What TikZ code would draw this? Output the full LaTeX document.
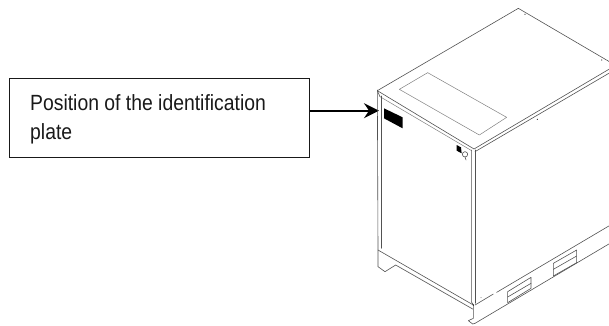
\documentclass[tikz,border=0pt]{standalone}
\usepackage{fontspec}
\setmainfont[FakeStretch=0.88]{Liberation Sans}
\usetikzlibrary{arrows.meta}
\tikzset{
  ln/.style={draw=black!68,line width=0.6pt,line join=round,line cap=round},
  lt/.style={draw=black!50,line width=0.5pt,line join=round,line cap=round},
  lbl/.style={draw=black!90,line width=1pt,minimum width=300pt,minimum height=79.5pt,inner sep=0pt,anchor=north west},
  arr/.style={draw=black,line width=1.7pt,-{Stealth[length=15pt,width=15pt,inset=5pt]}}
}
\begin{document}
\begin{tikzpicture}[x=1pt,y=-1pt]
\useasboundingbox (0,0) rectangle (609,325);
\clip (0,0) rectangle (609,325);
\node[lbl] (box) at (9,77.5) {};
\node[anchor=base west,inner sep=0pt,font=\fontsize{22}{29}\selectfont,text=black!90] (t1) at (30,110.8) {Position of the identification};
\node[anchor=base west,inner sep=0pt,font=\fontsize{22}{29}\selectfont,text=black!90] (t2) at (30,139.8) {plate};
\coordinate (tip) at (379,110.7);
\draw[arr] (box.east |- tip) -- (tip);
% upper part, in the 3x zoom coordinates
\begin{scope}[shift={(360pt,0pt)},x=0.33333pt,y=-0.33333pt]
  \draw[ln] (52,272) -- (475,25) -- (760,192);
  \draw[ln] (52,272) -- (342,447) -- (760,200);
  \draw[lt] (60,290) -- (335,452);
  \draw[ln] (52,272) -- (60,290);
  \draw[ln] (345,455) -- (760,212);
  \draw[lt] (118,268) -- (203,218) -- (440,352) -- (358,405) -- cycle;
  \fill[black] (72,325) -- (128,352) -- (128,385) -- (72,355) -- cycle;
  \fill[black] (290,435) -- (303,442) -- (305,460) -- (290,452) -- cycle;
  \draw[ln] (315,463) circle (8);
  \draw[ln] (315,470) -- (318,480);
  \fill[black!80] (495,43) circle (1.8) (725,180) circle (1.8) (532,358) circle (1.8);
\end{scope}
% lower part
\begin{scope}[shift={(360pt,-170pt)},x=0.33333pt,y=-0.33333pt]
  \draw[ln] (52,-240) -- (54,240) -- (54,290) -- (75,305) -- (107,285);
  \draw[ln] (63,-222) -- (63,235);
  \draw[ln] (54,240) -- (340,405);
  \draw[ln] (107,285) -- (338,417);
  \draw[ln] (334,-60) -- (334,395) -- (340,405);
  \draw[ln] (346,-60) -- (346,400);
  \draw[ln] (340,405) -- (340,445) -- (325,452) -- (338,462) -- (345,460) -- (760,214);
  \draw[ln] (345,405) -- (400,372);
  \draw[ln] (410,367) -- (760,160);
  \draw[ln] (443,365) -- (513,322) -- (513,355) -- (443,398) -- cycle;
  \draw[ln] (443,381) -- (513,340);
  \draw[ln] (580,280) -- (650,240) -- (650,278) -- (580,318) -- cycle;
  \draw[ln] (580,298) -- (650,258);
  \fill[black] (340,405) circle (2);
  \fill[black!60] (363,383) circle (1.5);
\end{scope}
\end{tikzpicture}
\end{document}
